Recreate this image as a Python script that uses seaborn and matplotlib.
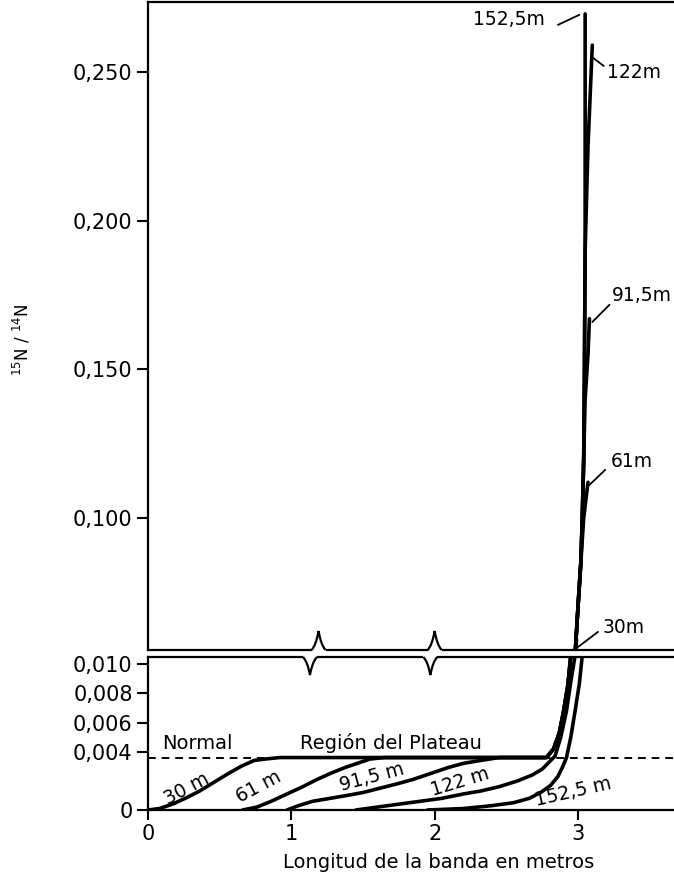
import matplotlib
matplotlib.use("Agg")
import matplotlib.pyplot as plt
import pandas as pd
import seaborn as sns
from matplotlib.path import Path
from matplotlib.patches import PathPatch, Rectangle
from matplotlib.transforms import blended_transform_factory

# ---------------------------------------------------------------------------
# Data: 15N/14N ratio along the band for several column lengths
# ---------------------------------------------------------------------------
plateau = 0.0036

x_30 = [0.00, 0.08, 0.17, 0.26, 0.36, 0.46, 0.56, 0.65, 0.74, 0.82, 0.92,
        2.78, 2.83, 2.87, 2.90, 2.93, 2.95, 2.98, 2.99]
y_30 = [0.0, 0.0001, 0.0004, 0.0008, 0.0013, 0.0019, 0.0025, 0.0030, 0.0034,
        0.0035, 0.0036, 0.0036, 0.0042, 0.0053, 0.0068, 0.0086, 0.0106,
        0.054, 0.059]

x_61 = [0.66, 0.76, 0.86, 0.97, 1.08, 1.18, 1.27, 1.37, 1.46, 1.55, 1.65,
        2.78, 2.83, 2.87, 2.90, 2.93, 2.95, 2.98, 3.00, 3.02, 3.04, 3.07]
y_61 = [0.0, 0.0002, 0.0006, 0.0011, 0.0016, 0.0021, 0.0025, 0.0029, 0.0032,
        0.0035, 0.0036, 0.0036, 0.0042, 0.0053, 0.0068, 0.0086, 0.0106,
        0.054, 0.070, 0.085, 0.100, 0.112]

x_915 = [0.97, 1.05, 1.15, 1.27, 1.39, 1.50, 1.62, 1.74, 1.85, 1.97, 2.09,
         2.20, 2.32, 2.45, 2.78, 2.83, 2.87, 2.90, 2.93, 2.95,
         2.98, 3.00, 3.02, 3.03, 3.04, 3.05, 3.07, 3.08]
y_915 = [0.0, 0.0003, 0.0006, 0.0008, 0.0010, 0.0012, 0.0015, 0.0018, 0.0021,
         0.0025, 0.0029, 0.0032, 0.0034, 0.0036, 0.0036, 0.0042, 0.0053,
         0.0068, 0.0086, 0.0106,
         0.054, 0.070, 0.085, 0.100, 0.120, 0.140, 0.155, 0.167]

x_122 = [1.45, 1.60, 1.75, 1.90, 2.05, 2.20, 2.32, 2.45, 2.58, 2.68, 2.75,
         2.80, 2.84, 2.88, 2.92, 2.95, 2.98,
         2.98, 3.00, 3.02, 3.03, 3.04, 3.045, 3.05, 3.07, 3.10]
y_122 = [0.0, 0.0002, 0.0004, 0.0006, 0.0008, 0.0011, 0.0013, 0.0016, 0.0020,
         0.0024, 0.0028, 0.0033, 0.0037, 0.0050, 0.0068, 0.0088, 0.0106,
         0.054, 0.070, 0.085, 0.100, 0.120, 0.150, 0.190, 0.225, 0.259]

x_1525 = [1.95, 2.20, 2.40, 2.55, 2.66, 2.74, 2.81, 2.86, 2.89, 2.92, 2.95,
          2.98, 3.01, 3.03,
          2.98, 3.00, 3.02, 3.03, 3.04, 3.045, 3.05, 3.05, 3.05]
y_1525 = [0.0, 0.0001, 0.0003, 0.0005, 0.0008, 0.0012, 0.0017, 0.0023, 0.0029,
          0.0036, 0.0050, 0.0068, 0.0087, 0.0106,
          0.054, 0.070, 0.085, 0.100, 0.120, 0.150, 0.190, 0.230, 0.2695]

series_names = ["30m", "61m", "91,5m", "122m", "152,5m"]
series_x = [x_30, x_61, x_915, x_122, x_1525]
series_y = [y_30, y_61, y_915, y_122, y_1525]

upper_ticks = [0.100, 0.150, 0.200, 0.250]
upper_ticklabels = ["0,100", "0,150", "0,200", "0,250"]
lower_ticks = [0.0, 0.004, 0.006, 0.008, 0.010]
lower_ticklabels = ["0", "0,004", "0,006", "0,008", "0,010"]
x_ticks = [0, 1, 2, 3]
x_ticklabels = ["0", "1", "2", "3"]

frames = []
for name, xs, ys in zip(series_names, series_x, series_y):
    frames.append(pd.DataFrame({"longitud": xs, "ratio": ys, "columna": name}))
df = pd.concat(frames, ignore_index=True)

# ---------------------------------------------------------------------------
# Figure
# ---------------------------------------------------------------------------
sns.set_style("white")
plt.rcParams.update({
    "font.family": ["DejaVu Sans"],
    "text.color": "black",
    "axes.labelcolor": "black",
    "xtick.color": "black",
    "ytick.color": "black",
    "lines.solid_capstyle": "round",
    "lines.solid_joinstyle": "round",
})

W, H = 674, 882
fig = plt.figure(figsize=(W / 100, H / 100), dpi=100)
left = 148 / W
width = (W - 148) / W
ax_top = fig.add_axes([left, 1 - 650 / H, width, 648 / H])
ax_bot = fig.add_axes([left, 1 - 810 / H, width, 153 / H])

XMAX = 3.67
palette = {n: "black" for n in series_names}
for ax in (ax_top, ax_bot):
    sns.lineplot(data=df, x="longitud", y="ratio", hue="columna", units="columna",
                 estimator=None, sort=False, palette=palette, linewidth=2.6,
                 legend=False, ax=ax, zorder=3)
    ax.set_xlim(0, XMAX)
    ax.set_xlabel("")
    ax.set_ylabel("")
    ax.spines["right"].set_visible(False)
    for s in ("left", "top", "bottom"):
        ax.spines[s].set_linewidth(1.6)
        ax.spines[s].set_color("black")
    ax.tick_params(axis="y", direction="out", length=8, width=1.5,
                   labelsize=15, pad=3, left=True)

ax_top.set_ylim(0.0556, 0.2735)
ax_top.set_yticks(upper_ticks)
ax_top.set_yticklabels(upper_ticklabels)
ax_top.tick_params(axis="x", bottom=False, labelbottom=False)

ax_bot.set_ylim(0.0, 0.0105)
ax_bot.set_yticks(lower_ticks)
ax_bot.set_yticklabels(lower_ticklabels)
ax_bot.set_xticks(x_ticks)
ax_bot.set_xticklabels(x_ticklabels)
ax_bot.tick_params(axis="x", direction="out", length=7, width=1.5,
                   labelsize=15, pad=3, bottom=True)

# plateau reference line
ax_bot.axhline(plateau, color="black", lw=1.4, ls=(0, (4, 3)), zorder=2)

# region labels
ax_bot.text(0.10, 0.0039, "Normal", fontsize=14, ha="left", va="bottom")
ax_bot.text(1.06, 0.0039, "Región del Plateau", fontsize=14, ha="left", va="bottom")

# curve labels in the lower section
lower_labels = [("30 m", 0.30, 0.0009, 28), ("61 m", 0.80, 0.0010, 28),
                ("91,5 m", 1.58, 0.0016, 15), ("122 m", 2.20, 0.0013, 17),
                ("152,5 m", 2.98, 0.0006, 13)]
for txt, lx, ly, rot in lower_labels:
    ax_bot.text(lx, ly, txt, fontsize=13.5, rotation=rot, rotation_mode="anchor",
                ha="center", va="bottom")

# curve labels with leaders in the upper section
upper_labels = [
    ("152,5m", 2.77, 0.2675, "right", (2.86, 3.01), (0.2658, 0.2692)),
    ("122m", 3.20, 0.2497, "left", (3.105, 3.18), (0.2547, 0.2520)),
    ("91,5m", 3.24, 0.1747, "left", (3.10, 3.22), (0.1659, 0.1717)),
    ("61m", 3.23, 0.1189, "left", (3.08, 3.19), (0.1111, 0.1162)),
    ("30m", 3.175, 0.0630, "left", (3.00, 3.14), (0.0566, 0.0617)),
]
for txt, lx, ly, ha, lxs, lys in upper_labels:
    ax_top.text(lx, ly, txt, fontsize=13.5, ha=ha, va="center")
    ax_top.plot(lxs, lys, color="black", lw=1.3)

# axis titles
fig.text(22 / W, 1 - 340 / H, r"$^{15}$N / $^{14}$N", rotation=90,
         ha="center", va="center", fontsize=12)
fig.text(439 / W, 1 - 862 / H, "Longitud de la banda en metros",
         ha="center", va="center", fontsize=14)

# axis-break symbols on the two facing spines
trans = blended_transform_factory(ax_bot.transData, fig.transFigure)
px_x = (W - 148) / XMAX  # pixels per data unit in x


def spike(x_apex, y_base_px, y_apex_px):
    w = 7 / px_x
    yb = 1 - y_base_px / H
    ya = 1 - y_apex_px / H
    cover = Rectangle((x_apex - w, yb - 2.5 / H), 2 * w, 5 / H, transform=trans,
                      facecolor="white", edgecolor="none", clip_on=False, zorder=5)
    fig.add_artist(cover)
    k = 0.35
    verts = [(x_apex - w, yb),
             (x_apex - k * w, yb + 0.25 * (ya - yb)), (x_apex, ya),
             (x_apex + k * w, yb + 0.25 * (ya - yb)), (x_apex + w, yb)]
    codes = [Path.MOVETO, Path.CURVE3, Path.CURVE3, Path.CURVE3, Path.CURVE3]
    fig.add_artist(PathPatch(Path(verts, codes), transform=trans, facecolor="none",
                             edgecolor="black", lw=1.6, clip_on=False, zorder=6))


for xu, xl in [(1.19, 1.13), (2.00, 1.97)]:
    spike(xu, 650, 631)
    spike(xl, 657, 675)

fig.savefig("out.png", dpi=100)
